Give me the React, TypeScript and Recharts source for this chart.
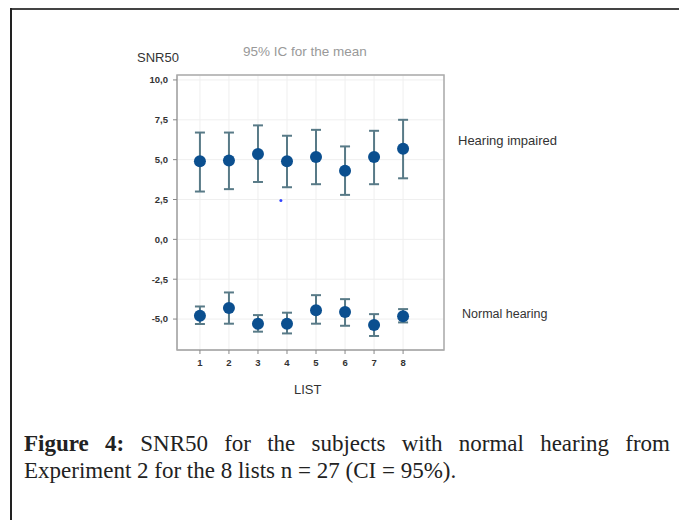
import React from 'react';
import { ScatterChart, Scatter, XAxis, YAxis, CartesianGrid, ErrorBar, ReferenceArea, ReferenceDot } from 'recharts';

const lists = [1, 2, 3, 4, 5, 6, 7, 8];
const yTicks = [-5, -2.5, 0, 2.5, 5, 7.5, 10];

const hiMean = [4.9, 4.95, 5.35, 4.9, 5.17, 4.31, 5.17, 5.69];
const hiLower = [3.0, 3.15, 3.6, 3.27, 3.46, 2.79, 3.46, 3.83];
const hiUpper = [6.7, 6.7, 7.15, 6.5, 6.87, 5.83, 6.81, 7.5];

const nhMean = [-4.79, -4.31, -5.29, -5.29, -4.44, -4.56, -5.375, -4.83];
const nhLower = [-5.31, -5.29, -5.79, -5.9, -5.29, -5.42, -6.06, -5.21];
const nhUpper = [-4.21, -3.33, -4.75, -4.6, -3.5, -3.75, -4.69, -4.375];

const xDomain = [0.21, 9.41];
const yDomain = [-6.94, 10.31];

const build = (mean: number[], lower: number[], upper: number[]) =>
  lists.map((x, i) => ({ x, y: mean[i], err: [mean[i] - lower[i], upper[i] - mean[i]] }));

const hiData = build(hiMean, hiLower, hiUpper);
const nhData = build(nhMean, nhLower, nhUpper);

const sans = 'Arial, "Liberation Sans", sans-serif';
const fmt = (v: number) => v.toFixed(1).replace('.', ',');

const abs = (style: React.CSSProperties): React.CSSProperties => ({ position: 'absolute', whiteSpace: 'nowrap', ...style });

export default function App() {
  return (
    <div style={{ position: 'absolute', left: 0, top: 0, width: 679, height: 520, background: '#fff', overflow: 'hidden' }}>
      <div style={{ position: 'absolute', left: 10, top: 8, width: 669, height: 2, background: '#444' }} />
      <div style={{ position: 'absolute', left: 10, top: 8, width: 2, height: 512, background: '#222' }} />
      <div style={{ position: 'absolute', left: 0, top: 0 }}>
        <ScatterChart width={679} height={520} margin={{ top: 75, left: 137, right: 235, bottom: 140 }}>
          <CartesianGrid stroke="#efefef" />
          <XAxis
            type="number"
            dataKey="x"
            domain={xDomain}
            ticks={lists}
            allowDataOverflow
            height={30}
            tickSize={4}
            tickMargin={5}
            axisLine={{ stroke: '#aaa' }}
            tickLine={{ stroke: '#888' }}
            tick={{ fontSize: 9.5, fill: '#333', fontFamily: sans, fontWeight: 600 }}
          />
          <YAxis
            type="number"
            dataKey="y"
            domain={yDomain}
            ticks={yTicks}
            allowDataOverflow
            width={40}
            tickSize={4}
            tickMargin={5}
            tickFormatter={fmt}
            axisLine={{ stroke: '#aaa' }}
            tickLine={{ stroke: '#888' }}
            tick={{ fontSize: 9.5, fill: '#333', fontFamily: sans, fontWeight: 600 }}
          />
          <ReferenceArea x1={xDomain[0]} x2={xDomain[1]} y1={yDomain[0]} y2={yDomain[1]} fill="none" stroke="#aaa" strokeWidth={1.5} />
          <ReferenceDot x={3.79} y={2.44} r={1.5} fill="#3344ff" stroke="none" />
          <Scatter data={hiData} fill="#0b4f8f" isAnimationActive={false} shape={(p: any) => <circle cx={p.cx} cy={p.cy} r={6} fill="#0b4f8f" />}>
            <ErrorBar dataKey="err" direction="y" width={5} stroke="#587a87" strokeWidth={2} />
          </Scatter>
          <Scatter data={nhData} fill="#0b4f8f" isAnimationActive={false} shape={(p: any) => <circle cx={p.cx} cy={p.cy} r={6} fill="#0b4f8f" />}>
            <ErrorBar dataKey="err" direction="y" width={5} stroke="#587a87" strokeWidth={2} />
          </Scatter>
        </ScatterChart>
      </div>
      <div style={abs({ left: 137, top: 50, fontFamily: sans, fontSize: 13, color: '#333', lineHeight: '16px' })}>SNR50</div>
      <div style={abs({ left: 243, top: 44, fontFamily: sans, fontSize: 13.5, color: '#999', lineHeight: '16px' })}>95% IC for the mean</div>
      <div style={abs({ left: 458, top: 133, fontFamily: sans, fontSize: 13, color: '#333', lineHeight: '16px' })}>Hearing impaired</div>
      <div style={abs({ left: 462, top: 306, fontFamily: sans, fontSize: 12.5, color: '#333', lineHeight: '16px' })}>Normal hearing</div>
      <div style={abs({ left: 294, top: 382, fontFamily: sans, fontSize: 13, color: '#333', lineHeight: '16px' })}>LIST</div>
      <div style={{ position: 'absolute', left: 24, top: 430, width: 646, fontFamily: '"Liberation Serif", serif', fontSize: 23, color: '#222', lineHeight: '27px' }}>
        <div style={{ textAlign: 'justify', textAlignLast: 'justify' }}>
          <b>Figure 4:</b> SNR50 for the subjects with normal hearing from
        </div>
        <div>Experiment 2 for the 8 lists n = 27 (CI = 95%).</div>
      </div>
    </div>
  );
}
